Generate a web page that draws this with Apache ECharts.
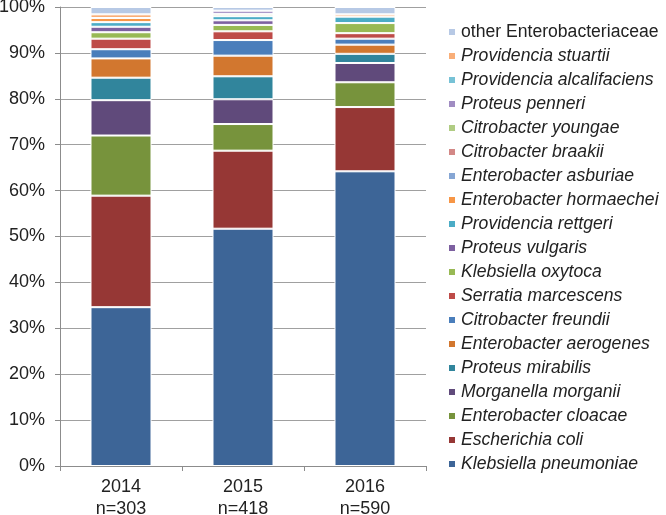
<!DOCTYPE html>
<html>
<head>
<meta charset="utf-8">
<script src="https://cdn.jsdelivr.net/npm/echarts@6/dist/echarts.min.js"></script>
<style>html,body{margin:0;padding:0;background:#fff}#c{width:666px;height:515px}</style>
</head>
<body>
<div id="c"></div>
<script>
// Categories and sample sizes
const years = ['2014', '2015', '2016'];
const nLabels = ['n=303', 'n=418', 'n=590'];
const yTicks = [0, 10, 20, 30, 40, 50, 60, 70, 80, 90, 100];

// Species in stacking order (bottom to top)
const species = [
  'Klebsiella pneumoniae', 'Escherichia coli', 'Enterobacter cloacae', 'Morganella morganii',
  'Proteus mirabilis', 'Enterobacter aerogenes', 'Citrobacter freundii', 'Serratia marcescens',
  'Klebsiella oxytoca', 'Proteus vulgaris', 'Providencia rettgeri', 'Enterobacter hormaechei',
  'Enterobacter asburiae', 'Citrobacter braakii', 'Citrobacter youngae', 'Proteus penneri',
  'Providencia alcalifaciens', 'Providencia stuartii', 'other Enterobacteriaceae'
];

// Percentages per year, same order as species
const v2014 = [34.6, 24.3, 13.1, 7.7, 4.9, 4.2, 2.0, 2.3, 1.4, 1.2, 1.0, 0.9, 0, 0, 0, 0, 0, 0.8, 1.6];
const v2015 = [51.7, 17.0, 5.8, 5.4, 5.0, 4.5, 3.4, 1.9, 1.4, 1.0, 0.9, 0, 0, 0, 0.5, 0.7, 0, 0, 0.8];
const v2016 = [64.2, 14.0, 5.4, 4.2, 2.0, 2.0, 1.3, 1.2, 2.2, 0, 1.4, 0, 0, 0, 0, 0, 0, 0.5, 1.6];

const colors = [
  '#3D6597', '#963735', '#77933C', '#604A7B', '#31859C', '#D2772F', '#4A7EBB', '#BE4B48',
  '#98B954', '#7D60A0', '#4BACC6', '#F79646', '#86A6D4', '#D38886', '#B0CC83', '#A08CC2',
  '#77C2D6', '#F9AE78', '#B7C9E5'
];

const yearVals = [v2014, v2015, v2016];
const series = species.map((name, i) => ({
  name: name,
  type: 'bar',
  stack: 'total',
  barWidth: '50%',
  data: yearVals.map(v => (v[i] > 0 ? v[i] : null)),
  itemStyle: { color: colors[i], borderColor: '#ffffff', borderWidth: 1 },
  emphasis: { disabled: true }
}));

const font = 'Liberation Sans, Arial, sans-serif';
const chart = echarts.init(document.getElementById('c'), null, { renderer: 'canvas' });
chart.setOption({
  animation: false,
  color: colors,
  grid: { left: 60, right: 240, top: 7, bottom: 49, containLabel: false, outerBoundsMode: 'none' },
  xAxis: {
    type: 'category',
    data: years,
    axisLine: { lineStyle: { color: '#8C8C8C', width: 1 } },
    axisTick: { show: true, length: 5, lineStyle: { color: '#8C8C8C' }, alignWithLabel: false },
    axisLabel: {
      margin: 10,
      color: '#222',
      fontFamily: font,
      fontSize: 18,
      lineHeight: 22,
      formatter: (val, idx) => val + '\n' + nLabels[idx]
    }
  },
  yAxis: {
    type: 'value',
    min: yTicks[0],
    max: yTicks[yTicks.length - 1],
    interval: 10,
    axisLine: { show: true, lineStyle: { color: '#8C8C8C', width: 1 } },
    axisTick: { show: true, length: 5, lineStyle: { color: '#8C8C8C' } },
    splitLine: { show: true, lineStyle: { color: '#A0A0A0', width: 1 } },
    axisLabel: {
      margin: 15,
      color: '#222',
      fontFamily: font,
      fontSize: 18,
      formatter: '{value}%'
    }
  },
  legend: {
    orient: 'vertical',
    left: 447,
    top: 22,
    padding: 0,
    itemWidth: 8,
    itemHeight: 8,
    itemGap: 4,
    icon: 'rect',
    data: species.slice().reverse(),
    textStyle: {
      color: '#222',
      fontFamily: font,
      fontSize: 17.6,
      lineHeight: 20,
      rich: {
        i: { fontStyle: 'italic', fontFamily: font, fontSize: 17.6, lineHeight: 20, color: '#222' }
      }
    },
    formatter: name => (name === 'other Enterobacteriaceae' ? name : '{i|' + name + '}')
  },
  series: series
});
</script>
</body>
</html>
